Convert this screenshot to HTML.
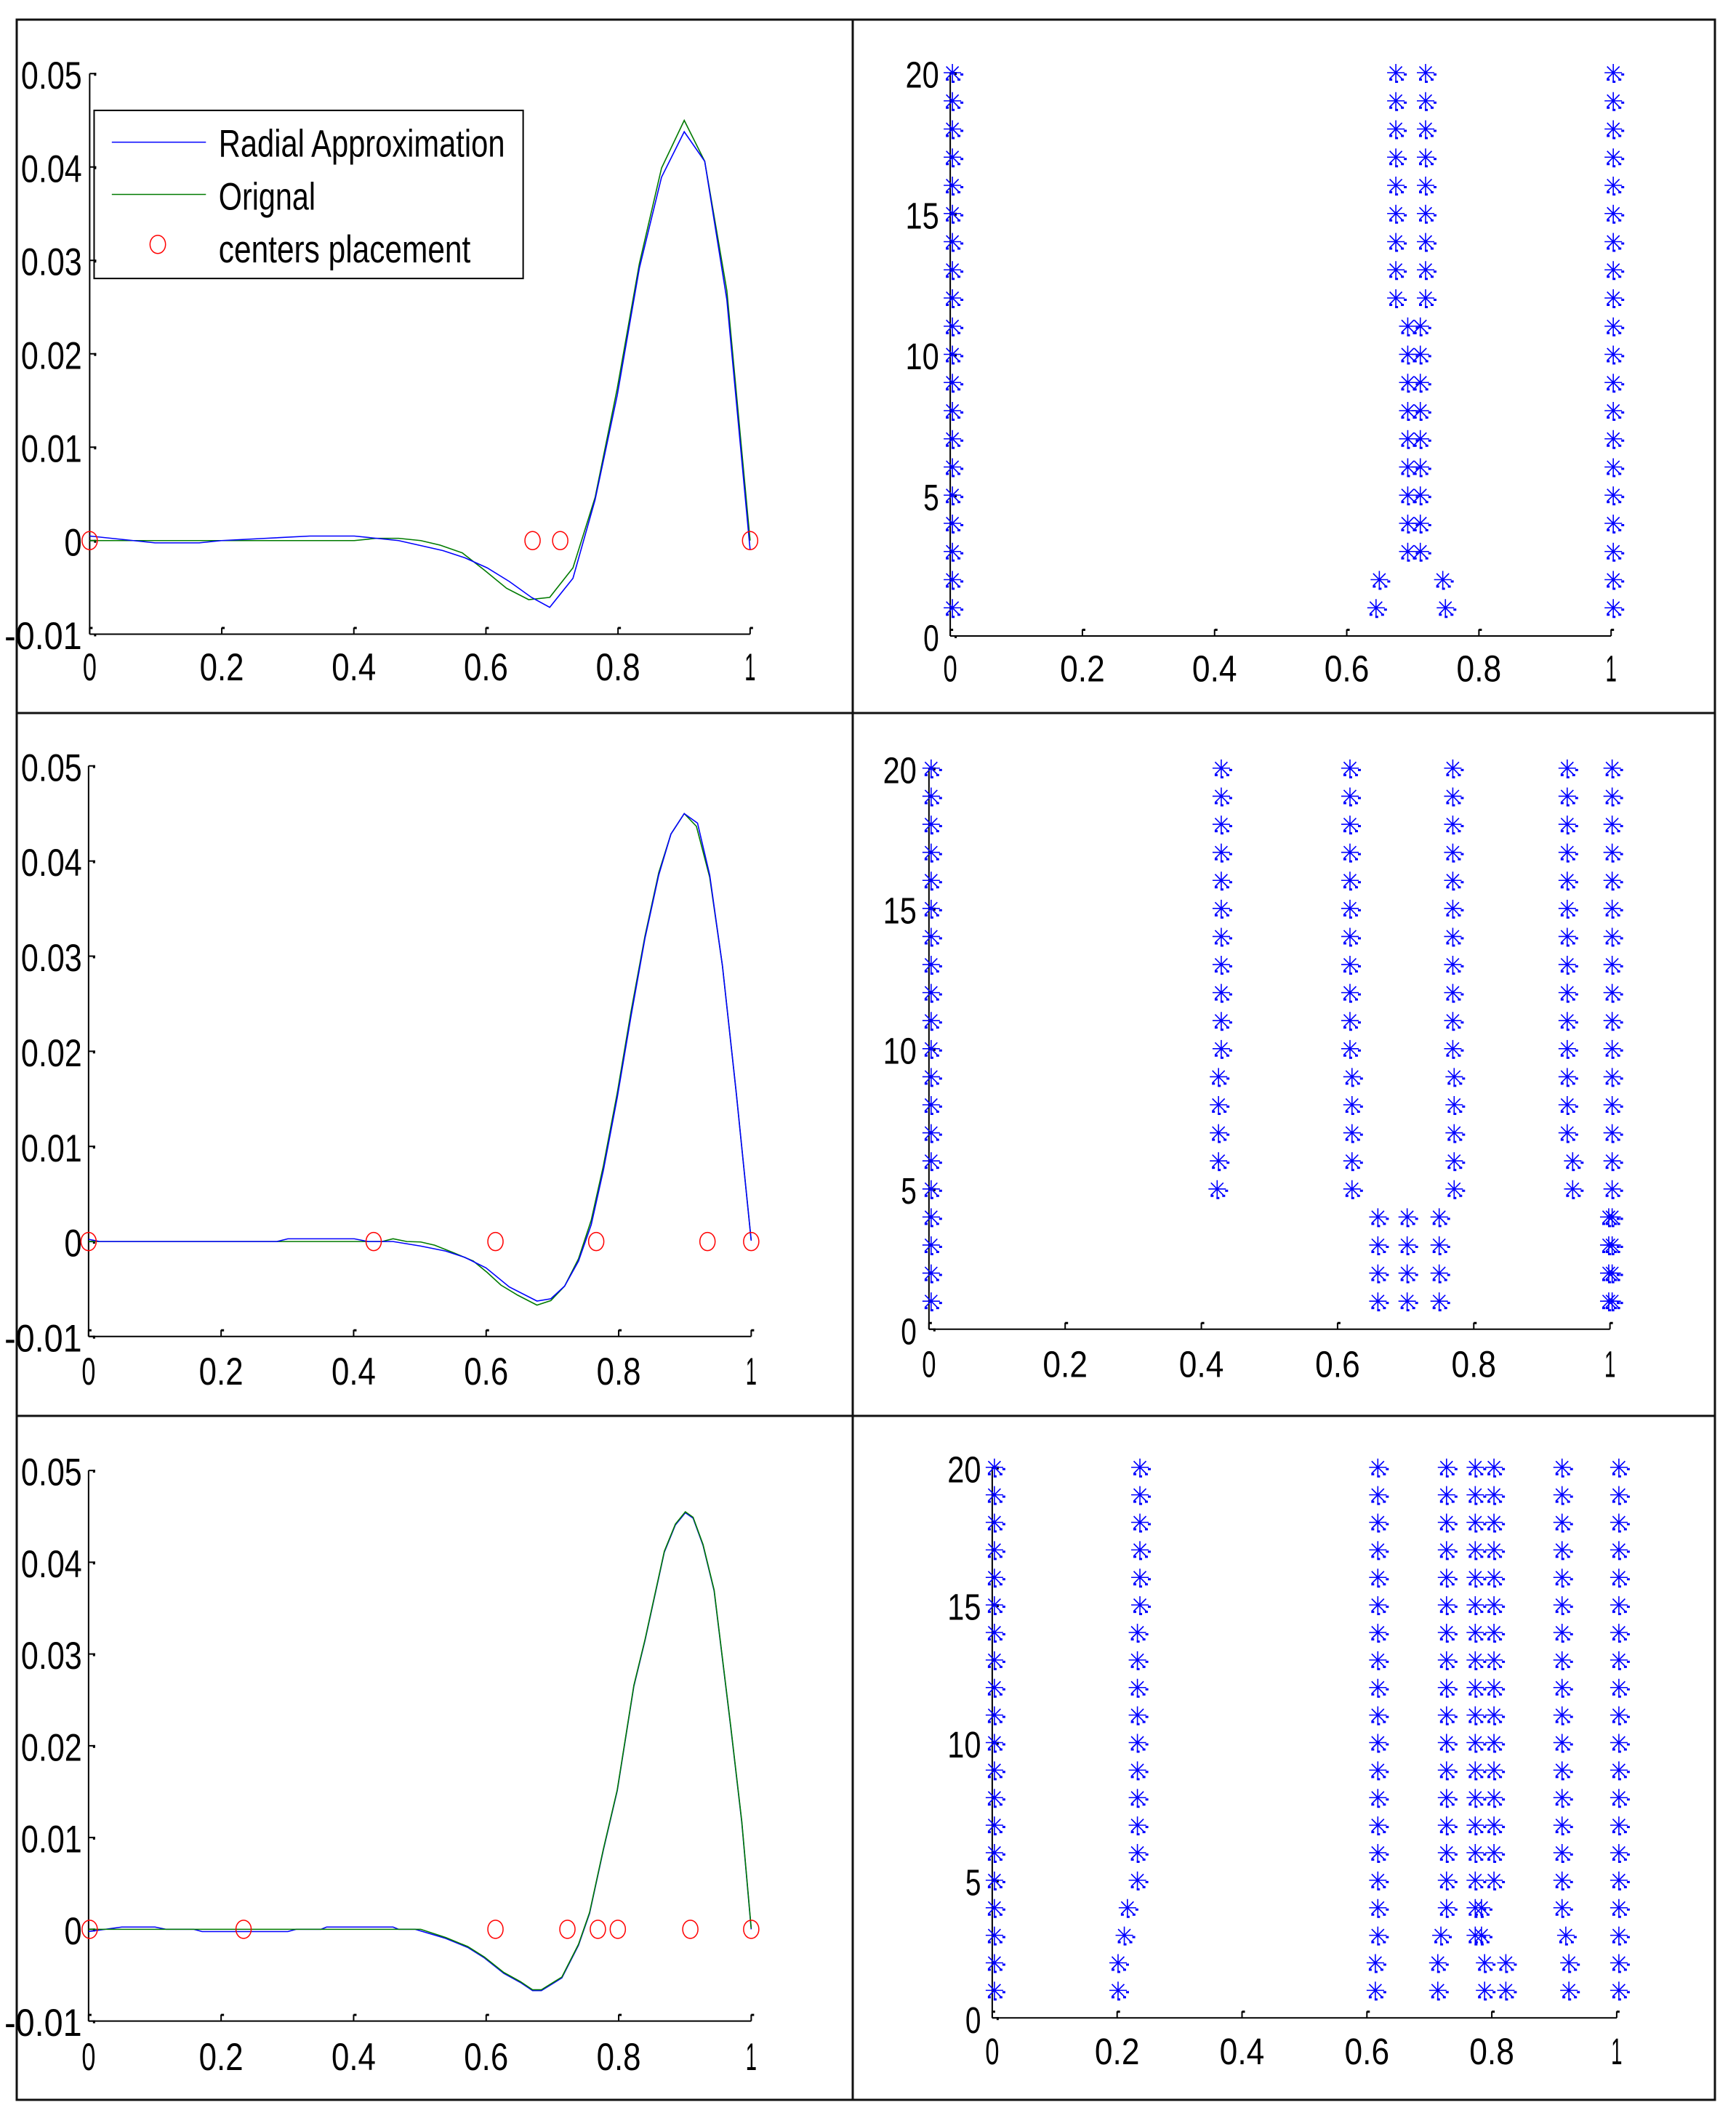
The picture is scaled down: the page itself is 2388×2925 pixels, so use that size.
<!DOCTYPE html>
<html><head><meta charset="utf-8"><style>
html,body{margin:0;padding:0;background:#fff;}
svg{display:block;}
text{font-family:"Liberation Sans Narrow","Liberation Sans",sans-serif;fill:#000;}
</style></head><body>
<svg id="s" width="2388" height="2925" viewBox="0 0 2388 2925" xmlns="http://www.w3.org/2000/svg">
<rect width="2388" height="2925" fill="#fff"/>
<g fill="none" stroke="#111" stroke-width="3">
<rect x="23" y="27" width="2336" height="2862"/>
<line x1="1173" y1="27" x2="1173" y2="2889"/>
<line x1="23" y1="981" x2="2359" y2="981"/>
<line x1="23" y1="1948" x2="2359" y2="1948"/>
</g>

<!-- P1L text -->
<g transform="translate(0,0) scale(0.7615,0.625)" font-size="84">
<g text-anchor="end">
<text x="148" y="195" textLength="110" lengthAdjust="spacingAndGlyphs">0.05</text>
<text x="148" y="401" textLength="110" lengthAdjust="spacingAndGlyphs">0.04</text>
<text x="148" y="606" textLength="110" lengthAdjust="spacingAndGlyphs">0.03</text>
<text x="148" y="812" textLength="110" lengthAdjust="spacingAndGlyphs">0.02</text>
<text x="148" y="1017" textLength="110" lengthAdjust="spacingAndGlyphs">0.01</text>
<text x="148" y="1223" textLength="32" lengthAdjust="spacingAndGlyphs">0</text>
<text x="148" y="1429" textLength="140" lengthAdjust="spacingAndGlyphs">-0.01</text>
</g>
<g text-anchor="middle">
<text x="162" y="1498" textLength="25" lengthAdjust="spacingAndGlyphs">0</text>
<text x="400.6" y="1498" textLength="80" lengthAdjust="spacingAndGlyphs">0.2</text>
<text x="639.2" y="1498" textLength="80" lengthAdjust="spacingAndGlyphs">0.4</text>
<text x="877.8" y="1498" textLength="80" lengthAdjust="spacingAndGlyphs">0.6</text>
<text x="1116.4" y="1498" textLength="80" lengthAdjust="spacingAndGlyphs">0.8</text>
<text x="1355" y="1498" textLength="20" lengthAdjust="spacingAndGlyphs">1</text>
</g>
<rect x="170" y="243" width="775" height="370" fill="#fff" stroke="#000" stroke-width="2" vector-effect="non-scaling-stroke"/>
<line x1="202" y1="313" x2="372" y2="313" stroke="#0000ff" stroke-width="1.5" vector-effect="non-scaling-stroke"/>
<line x1="202" y1="428" x2="372" y2="428" stroke="#007a00" stroke-width="1.5" vector-effect="non-scaling-stroke"/>
<ellipse cx="285" cy="538" rx="14" ry="20" fill="none" stroke="#ff0000" stroke-width="1.5" vector-effect="non-scaling-stroke"/>
<text x="395" y="345" textLength="517" lengthAdjust="spacingAndGlyphs">Radial Approximation</text>
<text x="395" y="462" textLength="175" lengthAdjust="spacingAndGlyphs">Orignal</text>
<text x="395" y="578" textLength="455" lengthAdjust="spacingAndGlyphs">centers placement</text>
</g>

<!-- P2L text -->
<g transform="translate(0,960) scale(0.7615,0.625)" font-size="84">
<g text-anchor="end">
<text x="148" y="183" textLength="110" lengthAdjust="spacingAndGlyphs">0.05</text>
<text x="148" y="392" textLength="110" lengthAdjust="spacingAndGlyphs">0.04</text>
<text x="148" y="602" textLength="110" lengthAdjust="spacingAndGlyphs">0.03</text>
<text x="148" y="811" textLength="110" lengthAdjust="spacingAndGlyphs">0.02</text>
<text x="148" y="1021" textLength="110" lengthAdjust="spacingAndGlyphs">0.01</text>
<text x="148" y="1230" textLength="32" lengthAdjust="spacingAndGlyphs">0</text>
<text x="148" y="1439" textLength="140" lengthAdjust="spacingAndGlyphs">-0.01</text>
</g>
<g text-anchor="middle">
<text x="160" y="1512" textLength="25" lengthAdjust="spacingAndGlyphs">0</text>
<text x="399.4" y="1512" textLength="80" lengthAdjust="spacingAndGlyphs">0.2</text>
<text x="638.8" y="1512" textLength="80" lengthAdjust="spacingAndGlyphs">0.4</text>
<text x="878.2" y="1512" textLength="80" lengthAdjust="spacingAndGlyphs">0.6</text>
<text x="1117.6" y="1512" textLength="80" lengthAdjust="spacingAndGlyphs">0.8</text>
<text x="1357" y="1512" textLength="20" lengthAdjust="spacingAndGlyphs">1</text>
</g>
</g>

<!-- P3L text -->
<g transform="translate(0,1945) scale(0.7615,0.625)" font-size="84">
<g text-anchor="end">
<text x="148" y="158" textLength="110" lengthAdjust="spacingAndGlyphs">0.05</text>
<text x="148" y="360" textLength="110" lengthAdjust="spacingAndGlyphs">0.04</text>
<text x="148" y="562" textLength="110" lengthAdjust="spacingAndGlyphs">0.03</text>
<text x="148" y="764" textLength="110" lengthAdjust="spacingAndGlyphs">0.02</text>
<text x="148" y="966" textLength="110" lengthAdjust="spacingAndGlyphs">0.01</text>
<text x="148" y="1168" textLength="32" lengthAdjust="spacingAndGlyphs">0</text>
<text x="148" y="1370" textLength="140" lengthAdjust="spacingAndGlyphs">-0.01</text>
</g>
<g text-anchor="middle">
<text x="160" y="1445" textLength="25" lengthAdjust="spacingAndGlyphs">0</text>
<text x="399.4" y="1445" textLength="80" lengthAdjust="spacingAndGlyphs">0.2</text>
<text x="638.8" y="1445" textLength="80" lengthAdjust="spacingAndGlyphs">0.4</text>
<text x="878.2" y="1445" textLength="80" lengthAdjust="spacingAndGlyphs">0.6</text>
<text x="1117.6" y="1445" textLength="80" lengthAdjust="spacingAndGlyphs">0.8</text>
<text x="1357" y="1445" textLength="20" lengthAdjust="spacingAndGlyphs">1</text>
</g>
</g>

<!-- P1R text -->
<g transform="translate(1180,0) scale(0.7704,0.625)" font-size="82">
<g text-anchor="end">
<text x="145" y="193" textLength="60" lengthAdjust="spacingAndGlyphs">20</text>
<text x="145" y="503" textLength="60" lengthAdjust="spacingAndGlyphs">15</text>
<text x="145" y="813" textLength="60" lengthAdjust="spacingAndGlyphs">10</text>
<text x="145" y="1123" textLength="28" lengthAdjust="spacingAndGlyphs">5</text>
<text x="145" y="1433" textLength="28" lengthAdjust="spacingAndGlyphs">0</text>
</g>
<g text-anchor="middle">
<text x="165" y="1500" textLength="25" lengthAdjust="spacingAndGlyphs">0</text>
<text x="401" y="1500" textLength="80" lengthAdjust="spacingAndGlyphs">0.2</text>
<text x="637" y="1500" textLength="80" lengthAdjust="spacingAndGlyphs">0.4</text>
<text x="873" y="1500" textLength="80" lengthAdjust="spacingAndGlyphs">0.6</text>
<text x="1109" y="1500" textLength="80" lengthAdjust="spacingAndGlyphs">0.8</text>
<text x="1345" y="1500" textLength="20" lengthAdjust="spacingAndGlyphs">1</text>
</g>
</g>

<!-- P2R text -->
<g transform="translate(1180,960) scale(0.7704,0.625)" font-size="82">
<g text-anchor="end">
<text x="105" y="188" textLength="60" lengthAdjust="spacingAndGlyphs">20</text>
<text x="105" y="497" textLength="60" lengthAdjust="spacingAndGlyphs">15</text>
<text x="105" y="806" textLength="60" lengthAdjust="spacingAndGlyphs">10</text>
<text x="105" y="1114" textLength="28" lengthAdjust="spacingAndGlyphs">5</text>
<text x="105" y="1423" textLength="28" lengthAdjust="spacingAndGlyphs">0</text>
</g>
<g text-anchor="middle">
<text x="127" y="1495" textLength="25" lengthAdjust="spacingAndGlyphs">0</text>
<text x="370.2" y="1495" textLength="80" lengthAdjust="spacingAndGlyphs">0.2</text>
<text x="613.4" y="1495" textLength="80" lengthAdjust="spacingAndGlyphs">0.4</text>
<text x="856.6" y="1495" textLength="80" lengthAdjust="spacingAndGlyphs">0.6</text>
<text x="1099.8" y="1495" textLength="80" lengthAdjust="spacingAndGlyphs">0.8</text>
<text x="1343" y="1495" textLength="20" lengthAdjust="spacingAndGlyphs">1</text>
</g>
</g>

<!-- P3R text -->
<g transform="translate(1180,1945) scale(0.7704,0.625)" font-size="82">
<g text-anchor="end">
<text x="220" y="151" textLength="60" lengthAdjust="spacingAndGlyphs">20</text>
<text x="220" y="454" textLength="60" lengthAdjust="spacingAndGlyphs">15</text>
<text x="220" y="757" textLength="60" lengthAdjust="spacingAndGlyphs">10</text>
<text x="220" y="1060" textLength="28" lengthAdjust="spacingAndGlyphs">5</text>
<text x="220" y="1363" textLength="28" lengthAdjust="spacingAndGlyphs">0</text>
</g>
<g text-anchor="middle">
<text x="240" y="1432" textLength="25" lengthAdjust="spacingAndGlyphs">0</text>
<text x="463" y="1432" textLength="80" lengthAdjust="spacingAndGlyphs">0.2</text>
<text x="686" y="1432" textLength="80" lengthAdjust="spacingAndGlyphs">0.4</text>
<text x="909" y="1432" textLength="80" lengthAdjust="spacingAndGlyphs">0.6</text>
<text x="1132" y="1432" textLength="80" lengthAdjust="spacingAndGlyphs">0.8</text>
<text x="1355" y="1432" textLength="20" lengthAdjust="spacingAndGlyphs">1</text>
</g>
</g>

<g id="dyn"></g>
</svg>
<script>
(function(){
var NS="http://www.w3.org/2000/svg",dyn=document.getElementById("dyn");
function el(t,a){var e=document.createElementNS(NS,t);for(var k in a)e.setAttribute(k,a[k]);dyn.appendChild(e);return e;}
function P(ox,oy,sx){return{x:function(z){return ox+z*sx},y:function(z){return oy+z*0.625}};}
function axes(p,x0,x1,yt,yb,xt,yts){
 el("line",{x1:p.x(x0),y1:p.y(yt),x2:p.x(x0),y2:p.y(yb),stroke:"#000","stroke-width":2});
 el("line",{x1:p.x(x0),y1:p.y(yb),x2:p.x(x1),y2:p.y(yb),stroke:"#000","stroke-width":2});
 xt.forEach(function(x){el("line",{x1:p.x(x),y1:p.y(yb),x2:p.x(x),y2:p.y(yb)-9,stroke:"#000","stroke-width":2});el("rect",{x:p.x(x),y:p.y(yb)-10,width:4,height:3,fill:"#000"});});
 yts.forEach(function(y){el("line",{x1:p.x(x0),y1:p.y(y),x2:p.x(x0)+9,y2:p.y(y),stroke:"#000","stroke-width":2});el("rect",{x:p.x(x0)+6,y:p.y(y)-1,width:3,height:4,fill:"#000"});});
}
function poly(p,pts,c){el("polyline",{points:pts.map(function(q){return p.x(q[0])+","+p.y(q[1])}).join(" "),fill:"none",stroke:c,"stroke-width":1.6});}
function circ(p,xs,y){xs.forEach(function(x){el("ellipse",{cx:p.x(x),cy:p.y(y),rx:10.5,ry:12.5,fill:"none",stroke:"#ff0000","stroke-width":1.5});});}
function star(cx,cy){
 var r=12,d=8.5,s="M"+(cx-r)+","+cy+"h"+(2*r)+"M"+cx+","+(cy-r)+"v"+(2*r)+"M"+(cx-d)+","+(cy-d)+"l"+(2*d)+","+(2*d)+"M"+(cx-d)+","+(cy+d)+"l"+(2*d)+","+(-2*d);
 el("path",{d:s,stroke:"#0000ff","stroke-width":1.6,fill:"none"});
 [[11,1],[-1,11],[-9,8],[7,8]].forEach(function(o){el("rect",{x:cx+o[0],y:cy+o[1],width:4,height:3,fill:"#0000ff"});});
}
// Left panels
var L1=P(0,0,0.7615);
axes(L1,162,1355,162,1396,[162,400.6,639.2,877.8,1116.4,1355],[162,367.6,573.2,778.8,984.4,1190,1396]);
poly(L1,[[162,1190],[640,1190],[680,1185],[720,1185],[760,1190],[795,1200],[835,1217],[875,1255],[915,1295],[955,1320],[993,1315],[1035,1250],[1075,1095],[1115,855],[1155,580],[1195,370],[1236,265],[1273,355],[1313,640],[1355,1190]],"#007a00");
poly(L1,[[162,1180],[280,1195],[360,1195],[400,1190],[480,1185],[560,1180],[640,1180],[720,1190],[800,1212],[840,1228],[880,1250],[920,1280],[960,1315],[993,1337],[1035,1273],[1075,1100],[1115,870],[1155,590],[1195,390],[1236,290],[1273,355],[1313,660],[1355,1210]],"#0000ff");
circ(L1,[162,962,1012,1355],1190);
var L2=P(0,960,0.7615);
axes(L2,160,1357,150,1406,[160,399.4,638.8,878.2,1117.6,1357],[150,359.4,568.8,778.2,987.6,1197,1406]);
poly(L2,[[160,1197],[690,1197],[710,1191],[735,1197],[760,1198],[785,1205],[820,1222],[855,1240],[880,1265],[905,1293],[935,1315],[970,1337],[995,1327],[1020,1295],[1045,1235],[1068,1150],[1090,1030],[1115,870],[1140,690],[1165,525],[1190,385],[1212,300],[1236,255],[1258,283],[1282,395],[1305,590],[1330,870],[1357,1195]],"#007a00");
poly(L2,[[160,1192],[180,1197],[500,1197],[520,1191],[640,1191],[665,1197],[710,1197],[760,1207],[805,1218],[840,1232],[878,1255],[920,1297],[970,1328],[995,1323],[1020,1295],[1045,1240],[1068,1160],[1090,1040],[1115,880],[1140,700],[1165,530],[1190,390],[1212,300],[1236,255],[1260,276],[1282,390],[1305,590],[1330,870],[1357,1195]],"#0000ff");
circ(L2,[160,675,895,1077,1278,1357],1197);
var L3=P(0,1945,0.7615);
axes(L3,160,1357,125,1337,[160,399.4,638.8,878.2,1117.6,1357],[125,327,529,731,933,1135,1337]);
var c3=[[805,1155],[845,1175],[875,1198],[910,1232],[940,1252],[962,1270],[978,1270],[1015,1242],[1045,1170],[1065,1100],[1090,960],[1115,830],[1145,600],[1165,500],[1200,305],[1220,245],[1238,218],[1252,230],[1270,290],[1290,390],[1320,690],[1340,900],[1357,1135]];
poly(L3,[[160,1140],[220,1130],[280,1130],[300,1135],[350,1135],[365,1140],[520,1140],[535,1135],[580,1135],[590,1130],[710,1130],[720,1135],[750,1135]].concat(c3),"#0000ff");
poly(L3,[[160,1135],[760,1135]].concat(c3.map(function(q){return [q[0],q[1]-2]})),"#007a00");
circ(L3,[162,440,895,1025,1080,1116,1247,1357],1135);
// Right panels
function rpanel(ox,oy,x0,x1,y20,y0,cols){
 var p=P(ox,oy,0.7704);
 var xt=[];for(var i=0;i<=5;i++)xt.push(x0+i*(x1-x0)/5);
 var yt=[];for(var j=0;j<=4;j++)yt.push(y20+j*(y0-y20)/4);
 axes(p,x0,x1,y20,y0,xt,yt);
 cols.forEach(function(c){for(var v=c[1];v<=c[2];v++){star(p.x(x0+c[0]*(x1-x0))+3,p.y(y0-v*(y0-y20)/20));}});
}
rpanel(1180,0,165,1345,160,1400,[[0,1,20],[0.671,12,20],[0.716,12,20],[0.689,3,11],[0.708,3,11],[0.641,1,1],[0.646,2,2],[0.742,2,2],[0.746,1,1],[1,1,20]]);
rpanel(1180,960,127,1343,155,1390,[[0,1,20],[0.426,10,20],[0.422,6,9],[0.42,5,5],[0.615,10,20],[0.618,5,9],[0.766,10,20],[0.768,5,9],[0.934,7,20],[0.942,5,6],[1,1,20],[0.995,1,4],[0.656,1,4],[0.699,1,4],[0.746,1,4]]);
rpanel(1180,1945,240,1355,118,1330,[[0,1,20],[0.233,15,20],[0.229,5,14],[0.213,4,4],[0.208,3,3],[0.198,1,2],[0.614,3,20],[0.61,1,2],[0.724,4,20],[0.715,3,3],[0.71,1,2],[0.77,3,20],[0.78,3,4],[0.80,5,20],[0.785,1,2],[0.819,1,2],[0.909,4,20],[0.915,3,3],[0.92,1,2],[1,1,20]]);
})();
</script>
</body></html>
